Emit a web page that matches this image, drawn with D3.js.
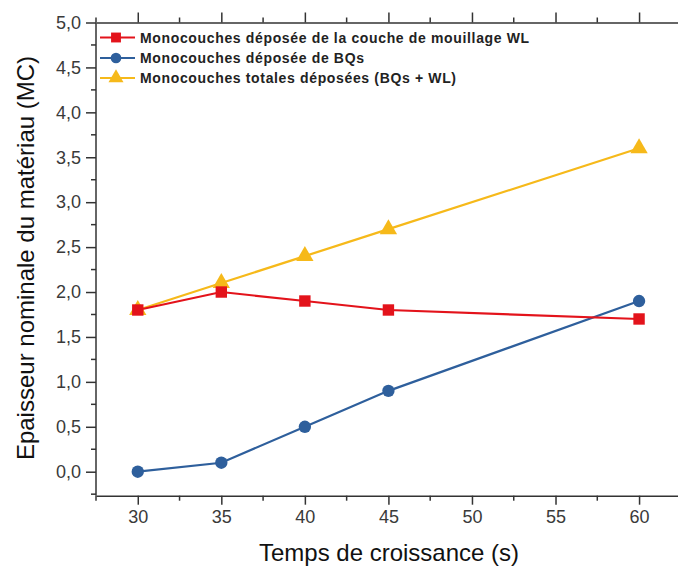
<!DOCTYPE html>
<html><head><meta charset="utf-8">
<script src="https://cdn.jsdelivr.net/npm/d3@7"></script>
<style>body{margin:0;background:#fff;} svg{display:block;font-family:"Liberation Sans",Arial,sans-serif;}</style>
</head><body>
<script>
const times = [30, 35, 40, 45, 60];
const wlValues = [1.8, 2.0, 1.9, 1.8, 1.7];
const bqValues = [0.0, 0.1, 0.5, 0.9, 1.9];
const totalValues = [1.8, 2.1, 2.4, 2.7, 3.6];
const seriesNames = ["Monocouches déposée de la couche de mouillage WL", "Monocouches déposée de BQs", "Monocouches totales déposées (BQs + WL)"];
const xTicks = [30, 35, 40, 45, 50, 55, 60];
const yTicks = [0, 0.5, 1, 1.5, 2, 2.5, 3, 3.5, 4, 4.5, 5];

(function(){
const W = 678, H = 567;
const svg = d3.select("body").append("svg").attr("width", W).attr("height", H);
const mLeft = 96, mRight = 680, mTop = 22.5, mBottom = 495.7;
const x = d3.scaleLinear().domain([27.5, 62.45]).range([mLeft, mRight]);
const y = d3.scaleLinear().domain([-0.267, 5]).range([mBottom, mTop]);
const axisColor = "#333";

const fmt = d => d.toFixed(1).replace(".", ",");
const minorX = d3.range(27.5, 62.5, 2.5).filter(v => v % 5 !== 0);
const minorY = d3.range(-0.25, 5.01, 0.25).filter(v => Math.abs(v*2 - Math.round(v*2)) > 1e-6);

function styleAxis(g){ g.selectAll("path,line").attr("stroke", axisColor).attr("stroke-width", 1.5); g.selectAll("text").attr("fill", "#3a3a3a").attr("font-size", 18); }

const gb = svg.append("g").attr("transform", `translate(0,${mBottom})`);
gb.call(d3.axisBottom(x).tickValues(xTicks).tickSize(9).tickSizeOuter(0).tickPadding(6).tickFormat(d3.format("d")));
gb.call(g => g.selectAll(".minor").data(minorX).join("line").attr("class","minor").attr("x1", d=>x(d)).attr("x2", d=>x(d)).attr("y1",0).attr("y2",5));
styleAxis(gb);
const gt = svg.append("g").attr("transform", `translate(0,${mTop})`);
gt.call(d3.axisTop(x).tickValues(xTicks).tickSize(10).tickSizeOuter(0).tickFormat(""));
gt.call(g => g.selectAll(".minor").data(minorX).join("line").attr("class","minor").attr("x1", d=>x(d)).attr("x2", d=>x(d)).attr("y1",0).attr("y2",-5));
styleAxis(gt);
const gl = svg.append("g").attr("transform", `translate(${mLeft},0)`);
gl.call(d3.axisLeft(y).tickValues(yTicks).tickSize(10).tickSizeOuter(0).tickPadding(5).tickFormat(fmt));
gl.call(g => g.selectAll(".minor").data(minorY).join("line").attr("class","minor").attr("y1", d=>y(d)).attr("y2", d=>y(d)).attr("x1",0).attr("x2",-5));
styleAxis(gl);
gl.select(".domain").attr("d", `M0,${mBottom}V${mTop}`);

const series = [
  {name: seriesNames[0], values: wlValues, color: "#e3131b", shape: d3.symbolSquare, size: 130},
  {name: seriesNames[1], values: bqValues, color: "#2e5f9c", shape: d3.symbolCircle, size: 120},
  {name: seriesNames[2], values: totalValues, color: "#f6b91a", shape: d3.symbolTriangle, size: 130}
];
const line = d3.line().x((d,i)=>x(times[i])).y(d=>y(d));
const drawOrder = [2, 1, 0];
drawOrder.forEach(k => {
  const s = series[k];
  svg.append("path").attr("d", line(s.values)).attr("fill","none").attr("stroke", s.color).attr("stroke-width", 2.2);
});
drawOrder.forEach(k => {
  const s = series[k];
  svg.selectAll(null).data(s.values).join("path")
    .attr("d", d3.symbol().type(s.shape).size(s.size))
    .attr("transform", (d,i)=>`translate(${x(times[i])},${y(d)})`)
    .attr("fill", s.color);
});

const legY = [37.5, 58, 78];
series.forEach((s, i) => {
  const g = svg.append("g").attr("transform", `translate(0,${legY[i]})`);
  g.append("line").attr("x1", 100).attr("x2", 135).attr("y1", 0).attr("y2", 0).attr("stroke", s.color).attr("stroke-width", 2.2);
  g.append("path").attr("d", d3.symbol().type(s.shape).size(s.size*0.75)).attr("transform", "translate(116,0)").attr("fill", s.color);
  g.append("text").attr("x", 140).attr("y", 5).attr("font-size", 14).attr("font-weight", "bold").attr("letter-spacing", 0.65).attr("fill", "#222").text(s.name);
});

svg.append("text").attr("x", 389).attr("y", 561).attr("text-anchor","middle").attr("font-size", 24).attr("fill","#111").text("Temps de croissance (s)");
svg.append("text").attr("transform", "translate(34,258) rotate(-90)").attr("text-anchor","middle").attr("font-size", 24).attr("fill","#111").text("Epaisseur nominale du matériau (MC)");
})();
</script>
</body></html>
